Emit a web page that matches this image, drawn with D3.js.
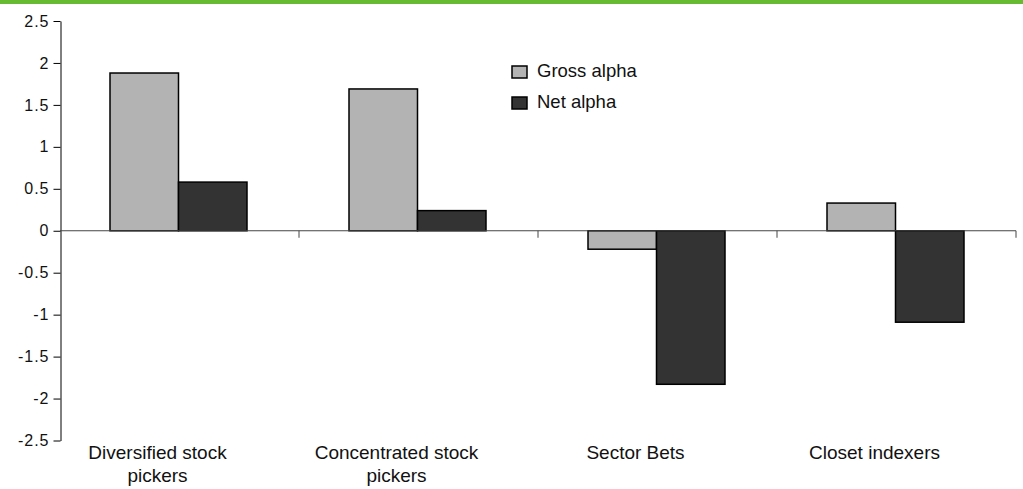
<!DOCTYPE html>
<html>
<head>
<meta charset="utf-8">
<script src="https://cdn.jsdelivr.net/npm/d3@7"></script>
<style>
    body { margin: 0; background: #fff; }
    text { font-family: "Liberation Sans", Arial, sans-serif; fill: #111; }
</style>
</head>
<body>
<svg id="chart"></svg>
<script>
var categories = [["Diversified stock", "pickers"], ["Concentrated stock", "pickers"], ["Sector Bets"], ["Closet indexers"]];
var seriesNames = ["Gross alpha", "Net alpha"];
var grossAlpha = [1.88, 1.69, -0.22, 0.33];
var netAlpha = [0.58, 0.24, -1.83, -1.09];
var yTicks = [2.5, 2, 1.5, 1, 0.5, 0, -0.5, -1, -1.5, -2, -2.5];
var colors = ["#b3b3b3", "#333333"];

var totalWidth = 1023;
var totalHeight = 489;

var svg = d3.select("#chart")
    .attr("width", totalWidth)
    .attr("height", totalHeight);

// green band along the top
svg.append("rect")
    .attr("x", 0).attr("y", 0)
    .attr("width", totalWidth).attr("height", 4)
    .attr("fill", "#66bb33");

var catIdx = categories.map(function (d, i) { return i; });
var x0 = d3.scaleBand().domain(catIdx).range([60, 1016]).padding(0);
var x1 = d3.scaleBand().domain(seriesNames).range([50, x0.bandwidth() - 52]).padding(0);
var y = d3.scaleLinear().domain([-2.5, 2.5]).range([440.5, 21]);

var series = [grossAlpha, netAlpha];

// y axis
var yAxis = svg.append("g")
    .attr("transform", "translate(60.5,0)")
    .call(d3.axisLeft(y).tickValues(yTicks).tickSizeInner(7).tickSizeOuter(0).tickPadding(4)
        .tickFormat(function (d) { return String(d); }));
yAxis.select(".domain").attr("stroke", "#000");
yAxis.selectAll(".tick line").attr("stroke", "#000");
yAxis.selectAll(".tick text")
    .style("font-size", "16px")
    .style("letter-spacing", "1px")
    .attr("fill", "#111");

// bars
var groups = svg.selectAll(".group")
    .data(catIdx)
    .enter()
    .append("g")
    .attr("class", "group")
    .attr("transform", function (d) { return "translate(" + x0(d) + ",0)"; });

groups.selectAll("rect")
    .data(function (i) {
        return seriesNames.map(function (s, j) { return { name: s, value: series[j][i], color: colors[j] }; });
    })
    .enter()
    .append("rect")
    .attr("x", function (d) { return x1(d.name); })
    .attr("y", function (d) { return y(Math.max(0, d.value)); })
    .attr("width", x1.bandwidth())
    .attr("height", function (d) { return Math.abs(y(d.value) - y(0)); })
    .attr("fill", function (d) { return d.color; })
    .attr("stroke", "#000")
    .attr("stroke-width", 1.5);

// x axis at zero
var xAxisG = svg.append("g").attr("transform", "translate(0," + y(0) + ")");
xAxisG.append("line")
    .attr("x1", 60).attr("x2", 1016)
    .attr("y1", 0).attr("y2", 0)
    .attr("stroke", "#444").attr("stroke-width", 1.2);
xAxisG.selectAll(".xtick")
    .data(catIdx)
    .enter()
    .append("line")
    .attr("x1", function (d) { return x0(d) + x0.bandwidth(); })
    .attr("x2", function (d) { return x0(d) + x0.bandwidth(); })
    .attr("y1", 0).attr("y2", 7)
    .attr("stroke", "#444");

// category labels
svg.selectAll(".xlabel")
    .data(catIdx)
    .enter()
    .append("text")
    .attr("class", "xlabel")
    .attr("text-anchor", "middle")
    .style("font-size", "19px")
    .attr("transform", function (d) { return "translate(" + (x0(d) + x0.bandwidth() / 2 - 22) + ",459)"; })
    .selectAll("tspan")
    .data(function (d) { return categories[d]; })
    .enter()
    .append("tspan")
    .attr("x", 0)
    .attr("y", function (d, i) { return i * 23; })
    .text(function (d) { return d; });

// legend
var legend = svg.selectAll(".legend")
    .data(seriesNames)
    .enter()
    .append("g")
    .attr("class", "legend")
    .attr("transform", function (d, i) { return "translate(512," + (66 + i * 31) + ")"; });
legend.append("rect")
    .attr("width", 15).attr("height", 12)
    .attr("fill", function (d, i) { return colors[i]; })
    .attr("stroke", "#000").attr("stroke-width", 1.5);
legend.append("text")
    .attr("x", 25).attr("y", 11)
    .style("font-size", "18.5px")
    .text(function (d) { return d; });
</script>
</body>
</html>
